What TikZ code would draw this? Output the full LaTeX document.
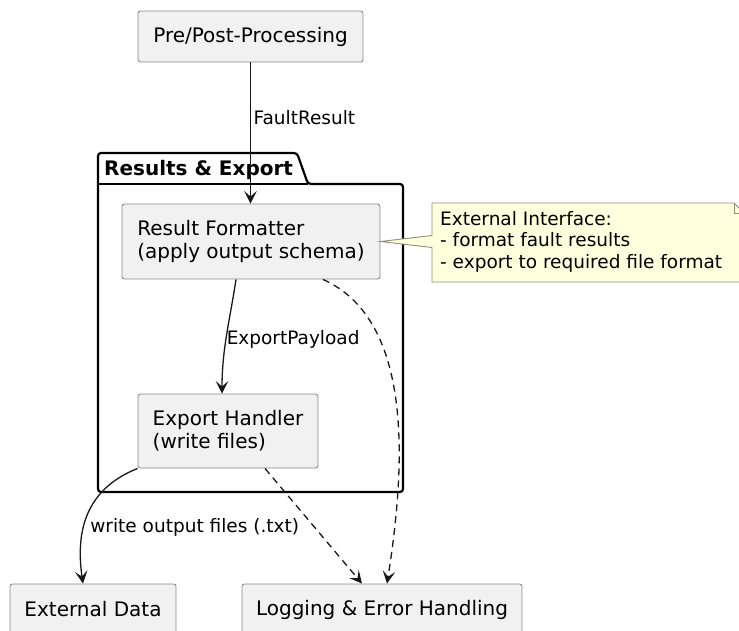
\documentclass[tikz,border=0pt]{standalone}
\usepackage{fontspec}
\setmainfont{DejaVu Sans}
\usepackage{xcolor}
\usepackage{tikz}
\usetikzlibrary{arrows.meta}

\definecolor{boxfill}{HTML}{F1F1F1}
\definecolor{boxline}{HTML}{8A8A8A}
\definecolor{notefill}{HTML}{FEFFDD}
\definecolor{noteline}{HTML}{8F8F78}
\definecolor{wire}{HTML}{181818}

\begin{document}
\begin{tikzpicture}[x=1pt, y=-1pt,
    comp/.style={draw=boxline, fill=boxfill, line width=0.9pt, rounded corners=2.5pt,
      inner sep=0pt, align=left, font=\fontsize{20}{23}\selectfont},
    lbl/.style={inner sep=0pt, font=\fontsize{18.5}{21.5}\selectfont},
    flow/.style={draw=wire, line width=1.3pt, -{Stealth[length=12.5pt, width=12.5pt, inset=5.5pt]}},
    weak/.style={flow, dash pattern=on 7pt off 5pt}]

    \useasboundingbox (0,0) rectangle (739,630);

    % Package frame
    \draw[line width=2.2pt, rounded corners=3pt] (98,184) -- (98,153) -- (297,153) -- (308,184)
      -- (403,184) -- (403,492) -- (98,492) -- cycle;
    \draw[line width=2.2pt] (98,184) -- (308,184);
    \node[anchor=base west, inner sep=0pt, font=\bfseries\fontsize{20}{23}\selectfont] (pkgtitle) at (104,175) {Results \& Export};

    % Component boxes
    \node[comp, minimum width=225pt, minimum height=51pt] (pre) at (250.5,36.5) {Pre/Post-Processing};
    \node[comp, minimum width=258pt, minimum height=75pt] (fmt) at (251,241.5) {Result Formatter\\(apply output schema)};
    \node[comp, minimum width=180pt, minimum height=74pt] (exp) at (228,431) {Export Handler\\(write files)};
    \node[comp, minimum width=166pt, minimum height=51pt] (ext) at (93,609.5) {External Data};
    \node[comp, minimum width=280pt, minimum height=51pt] (log) at (382,609.5) {Logging \& Error Handling};

    % Note
    \draw[draw=noteline, fill=notefill, line width=0.9pt] (432,203) -- (734,203) -- (744,213) -- (744,282)
      -- (432,282) -- (432,247.5) -- (fmt.east) -- (432,235.5) -- cycle;
    \draw[draw=noteline, line width=0.9pt] (734,203) -- (734,213) -- (744,213);
    \node[lbl, anchor=west, align=left] (note) at (440,241.7) {External Interface:\\- format fault results\\- export to required file format};

    % Arrows
    \draw[flow] (pre.south) -- (pre.south |- fmt.north)
      node[lbl, pos=0.39, anchor=west, xshift=2.5pt] {FaultResult};
    \draw[flow] ([xshift=-15pt]fmt.south) .. controls +(-6,40) and +(0,-45) .. ([xshift=-6pt]exp.north)
      node[lbl, pos=0.54, anchor=west] {ExportPayload};
    \draw[flow] (exp.south west) .. controls +(-50,20) and +(-8,-55) .. ([xshift=-10pt]ext.north)
      node[lbl, pos=0.62, anchor=west, xshift=6pt] {write output files (.txt)};

    % Dashed arrows to logging
    \draw[weak] ([xshift=72pt]fmt.south) .. controls +(92,41) and +(18,-114) .. ([xshift=5pt]log.north);
    \draw[weak] ([xshift=37pt]exp.south) -- ([xshift=-20pt]log.north);
\end{tikzpicture}
\end{document}
